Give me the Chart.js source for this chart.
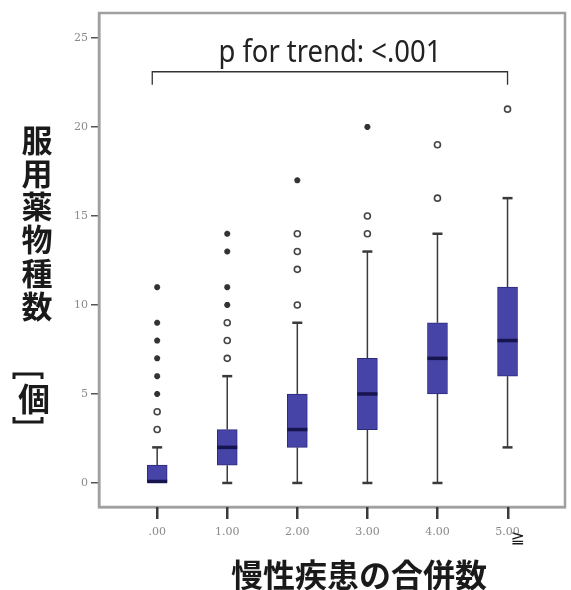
<!DOCTYPE html>
<html>
<head>
<meta charset="utf-8">
<script src="https://cdn.jsdelivr.net/npm/chart.js@4"></script>
<style>
  html, body { margin: 0; padding: 0; background: #fff; }
  #wrap { width: 571px; height: 590px; position: relative; }
</style>
</head>
<body>
<div id="wrap"><canvas id="myChart" width="571" height="590"></canvas></div>
<script>
// data
const categories = [".00", "1.00", "2.00", "3.00", "4.00", "5.00"];
const q1 = [0, 1, 2, 3, 5, 6];
const medians = [0, 2, 3, 5, 7, 8];
const q3 = [1, 3, 5, 7, 9, 11];
const whiskLow = [0, 0, 0, 0, 0, 2];
const whiskHigh = [2, 6, 9, 13, 14, 16];
const outliers = [[3, 4], [7, 8, 9], [10, 12, 13, 14], [14, 15], [16, 19], [21]];
const extremes = [[5, 6, 7, 8, 9, 11], [10, 11, 13, 14], [17], [20], [], []];
const yTicks = [0, 5, 10, 15, 20, 25];
const trendLabel = "p for trend: <.001";
const trendFrom = -0.07, trendTo = 5, trendLevel = 23.1;
const yTitle = ["服", "用", "薬", "物", "種", "数"];
const yUnit = "個";
const xTitle = "慢性疾患の合併数";

const boxPoints = categories.map((c, i) => ({ x: i, y: [q1[i], q3[i]] }));
const circlePoints = [];
outliers.forEach((arr, i) => arr.forEach(v => circlePoints.push({ x: i, y: v })));
const starPoints = [];
extremes.forEach((arr, i) => arr.forEach(v => starPoints.push({ x: i, y: v })));

const BOX_W = 20;

const boxExtras = {
  id: "boxExtras",
  beforeDatasetsDraw(chart) {
    const { ctx, chartArea: a, scales: { x, y } } = chart;
    ctx.save();
    // frame
    ctx.strokeStyle = "#a0a0a0";
    ctx.lineWidth = 2.5;
    ctx.strokeRect(a.left, a.top, a.right - a.left, a.bottom - a.top);
    // x tick marks under each category
    ctx.fillStyle = "#3a3a3a";
    categories.forEach((c, i) => {
      const px = Math.round(x.getPixelForValue(i));
      ctx.fillRect(px - 1, a.bottom, 2.5, 12);
    });
    // whiskers
    ctx.strokeStyle = "#3a3a3a";
    categories.forEach((c, i) => {
      const px = x.getPixelForValue(i);
      [[q3[i], whiskHigh[i]], [q1[i], whiskLow[i]]].forEach(([from, to]) => {
        if (from === to) return;
        ctx.lineWidth = 1.5;
        ctx.beginPath();
        ctx.moveTo(px, y.getPixelForValue(from));
        ctx.lineTo(px, y.getPixelForValue(to));
        ctx.stroke();
        ctx.lineWidth = 2.5;
        ctx.beginPath();
        ctx.moveTo(px - 5, y.getPixelForValue(to));
        ctx.lineTo(px + 5, y.getPixelForValue(to));
        ctx.stroke();
      });
    });
    ctx.restore();
  },
  afterDatasetsDraw(chart) {
    const { ctx, scales: { x, y } } = chart;
    ctx.save();
    // medians
    ctx.strokeStyle = "#17154f";
    ctx.lineWidth = 3.5;
    categories.forEach((c, i) => {
      const px = x.getPixelForValue(i);
      let py = y.getPixelForValue(medians[i]);
      if (medians[i] === q1[i]) py -= 1.5;
      ctx.beginPath();
      ctx.moveTo(px - BOX_W / 2, py);
      ctx.lineTo(px + BOX_W / 2, py);
      ctx.stroke();
    });

    // trend bracket
    const bx1 = x.getPixelForValue(trendFrom);
    const bx2 = x.getPixelForValue(trendTo);
    const by = y.getPixelForValue(trendLevel);
    ctx.strokeStyle = "#333";
    ctx.lineWidth = 1.3;
    ctx.beginPath();
    ctx.moveTo(bx1, by + 13);
    ctx.lineTo(bx1, by);
    ctx.lineTo(bx2, by);
    ctx.lineTo(bx2, by + 13);
    ctx.stroke();

    ctx.fillStyle = "#222";
    ctx.font = '30px "Noto Sans"';
    ctx.textAlign = "center";
    ctx.textBaseline = "alphabetic";
    const w = ctx.measureText(trendLabel).width;
    ctx.save();
    ctx.translate((bx1 + bx2) / 2, by - 10);
    ctx.scale(223 / w, 1);
    ctx.fillText(trendLabel, 0, 0);
    ctx.restore();

    // y title, stacked upright
    ctx.fillStyle = "#1a1a1a";
    ctx.font = 'bold 31px "Noto Sans CJK JP"';
    ctx.textBaseline = "middle";
    yTitle.forEach((ch, k) => ctx.fillText(ch, 37, 140 + k * 33.2));
    ctx.font = 'bold 32px "Noto Sans CJK JP"';
    ctx.fillText(yUnit, 34, 399);
    ctx.strokeStyle = "#1a1a1a";
    ctx.lineWidth = 3;
    ctx.beginPath();
    ctx.moveTo(14, 379); ctx.lineTo(14, 374); ctx.lineTo(42, 374); ctx.lineTo(42, 379);
    ctx.moveTo(14, 417); ctx.lineTo(14, 422); ctx.lineTo(42, 422); ctx.lineTo(42, 417);
    ctx.stroke();

    // x title
    ctx.font = 'bold 32px "Noto Sans CJK JP"';
    ctx.fillText(xTitle, 359, 575);

    // "≧" next to the last category label
    ctx.font = '17px "DejaVu Sans"';
    ctx.fillText("≧", x.getPixelForValue(categories.length - 1) + 10, 539);
    ctx.restore();
  }
};

new Chart(document.getElementById("myChart"), {
  type: "bar",
  data: {
    datasets: [
      {
        type: "bar",
        data: boxPoints,
        backgroundColor: "#4744a8",
        borderColor: "#2c2a7c",
        borderWidth: 1,
        borderSkipped: false,
        barThickness: BOX_W,
      },
      {
        type: "scatter",
        data: circlePoints,
        pointStyle: "circle",
        pointRadius: 3,
        backgroundColor: "#ffffff",
        borderColor: "#444",
        borderWidth: 1.6,
      },
      {
        type: "scatter",
        data: starPoints,
        pointStyle: "star",
        pointRadius: 3,
        backgroundColor: "#333",
        borderColor: "#333",
        borderWidth: 2,
      },
    ],
  },
  options: {
    responsive: false,
    animation: false,
    layout: { padding: { top: 13, right: 1, left: 0, bottom: 0 } },
    plugins: { legend: { display: false }, tooltip: { enabled: false } },
    scales: {
      x: {
        type: "linear",
        min: -0.83,
        max: 5.82,
        offset: false,
        afterBuildTicks: (s) => { s.ticks = categories.map((c, i) => ({ value: i })); },
        afterFit: (s) => { s.height = 83; },
        ticks: {
          callback: (v) => categories[v],
          color: "#8a8a8a",
          font: { family: "DejaVu Serif", size: 11 },
          padding: 9,
          maxRotation: 0,
          autoSkip: false,
        },
        grid: { offset: false, drawOnChartArea: false, drawTicks: true, tickLength: 10, color: "rgba(0,0,0,0)" },
        border: { color: "#a0a0a0", width: 2.5 },
      },
      y: {
        min: -1.35,
        max: 26.4,
        afterBuildTicks: (s) => { s.ticks = yTicks.map(v => ({ value: v })); },
        afterFit: (s) => { s.width = 99; },
        ticks: {
          color: "#8a8a8a",
          font: { family: "DejaVu Serif", size: 11 },
          padding: 3,
        },
        grid: { drawOnChartArea: false, drawTicks: true, tickLength: 8, color: "#555", lineWidth: 1.5 },
        border: { color: "#a0a0a0", width: 2.5 },
      },
    },
  },
  plugins: [boxExtras],
});
</script>
</body>
</html>
